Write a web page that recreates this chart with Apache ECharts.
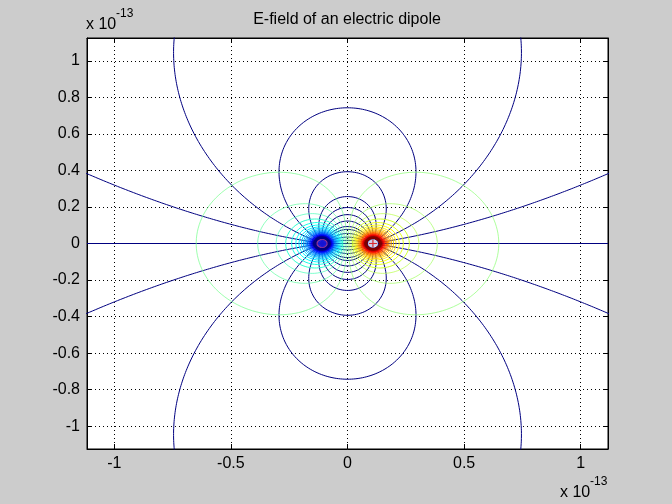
<!DOCTYPE html>
<html>
<head>
<meta charset="utf-8">
<script src="https://cdn.jsdelivr.net/npm/echarts@6/dist/echarts.min.js"></script>
<style>
html,body{margin:0;padding:0;background:#cccccc;}
#chart{width:672px;height:504px;}
</style>
</head>
<body>
<div id="chart"></div>
<script>
// ---------------- data ----------------
const chartTitle = 'E-field of an electric dipole';
const exponentText = '-13';                 // axis multiplier x 10^-13
const xRange = [-1.117, 1.117];             // ×1e-13
const yRange = [-1.125, 1.125];             // ×1e-13
const xTicks = [-1, -0.5, 0, 0.5, 1];
const yTicks = [-1, -0.8, -0.6, -0.4, -0.2, 0, 0.2, 0.4, 0.6, 0.8, 1];
const chargeX = [-0.109, 0.109];            // negative charge, positive charge (both at y = 0)
const chargeSign = [-1, 1];
// heights (×1e-13) where each field line crosses the x = 0 line (mirrored below the axis)
const fieldLineCrossings = [11.1, 1.93, 0.743, 0.393, 0.257, 0.197, 0.158, 0.123, 0.093, 0.077, 0.055, 0.035, 0.017];
// |potential| of the equipotential contours drawn round each charge (1/r units, r in 1e-13)
const potentialLevels = [0.533, 1.599, 2.665, 3.731, 4.797, 5.863, 6.929, 7.995, 9.061, 10.127,
                         11.193, 12.259, 13.325, 14.391, 15.457, 16.523, 17.589, 18.655, 19.721,
                         20.787, 21.853, 22.919, 23.985, 25.051, 26.117, 27.183, 28.249, 29.315,
                         30.381, 31.447, 32.513];
const colorLimit = 24;                      // colour scale runs from -colorLimit (blue) to +colorLimit (red)

// ---------------- helpers ----------------
function clamp01(v){ return Math.max(0, Math.min(1, v)); }
function jet(t){
  t = clamp01(t);
  const r = clamp01(Math.min(4*t - 1.5, -4*t + 4.5));
  const g = clamp01(Math.min(4*t - 0.5, -4*t + 3.5));
  const b = clamp01(Math.min(4*t + 0.5, -4*t + 2.5));
  return 'rgb(' + Math.round(r*255) + ',' + Math.round(g*255) + ',' + Math.round(b*255) + ')';
}
const a = chargeX[1];
function potential(x, y){
  let v = 0;
  for (let i = 0; i < chargeX.length; i++){
    v += chargeSign[i] / Math.hypot(x - chargeX[i], y);
  }
  return v;
}
// field line of the dipole crossing x = 0 at height h: cos(th+) - cos(th-) = const
function fieldLine(h, sign){
  const cosAlpha = 1 - 2*a/Math.hypot(a, h);
  const alpha = Math.acos(cosAlpha);
  const n = 4000, pts = [];
  for (let i = 1; i < n; i++){
    const u = i / n;
    const t = alpha + (Math.PI - alpha) * u;
    const cm = Math.max(-1, Math.min(1, Math.cos(t) + 1 - cosAlpha));
    const tm = Math.acos(cm);
    const rp = 2*a*Math.sin(tm) / Math.sin(t - tm);
    const x = a + rp*Math.cos(t), y = rp*Math.sin(t);
    if (!isFinite(x) || !isFinite(y)) continue;
    pts.push([x, sign*y]);
  }
  pts.unshift([a, 0]);
  pts.push([-a, 0]);
  return pts;
}
// equipotential round charge index ci at |level| L (ray marching from the charge)
function equipotential(ci, L){
  const cx = chargeX[ci], s = chargeSign[ci];
  const n = 360, pts = [];
  for (let k = 0; k <= n; k++){
    const ph = 2*Math.PI*k/n, c = Math.cos(ph), sn = Math.sin(ph);
    let lo = 1e-4, hi = lo;
    while (s*potential(cx + hi*c, hi*sn) > L && hi < 50){ lo = hi; hi *= 1.08; }
    for (let it = 0; it < 40; it++){
      const mid = 0.5*(lo + hi);
      if (s*potential(cx + mid*c, mid*sn) > L) lo = mid; else hi = mid;
    }
    const r = 0.5*(lo + hi);
    pts.push([cx + r*c, r*sn]);
  }
  return pts;
}

const series = [];
const navy = '#000080';
const lineBase = {type:'line', showSymbol:false, symbol:'none', silent:true, animation:false, clip:true};
fieldLineCrossings.forEach(h => {
  [1, -1].forEach(sign => {
    series.push(Object.assign({}, lineBase, {data: fieldLine(h, sign), lineStyle:{color:navy, width:1}, z:2}));
  });
});
series.push(Object.assign({}, lineBase, {data:[[xRange[0],0],[xRange[1],0]], lineStyle:{color:navy, width:1}, z:2}));

potentialLevels.forEach(L => {
  [0, 1].forEach(ci => {
    const s = chargeSign[ci];
    series.push(Object.assign({}, lineBase, {data: equipotential(ci, L),
      lineStyle:{color: jet(0.5 + s*L/(2*colorLimit)), width:1, opacity: L < 3 ? 0.7 : 1}, z:3}));
  });
});

// charge centres
series.push({type:'scatter', data:[[chargeX[0],0]], symbol:'circle', symbolSize:[10,8],
  itemStyle:{color:'#1818e8', borderColor:'#a03090', borderWidth:1.2}, z:5, silent:true, animation:false});
series.push({type:'scatter', data:[[chargeX[1],0]], symbol:'circle', symbolSize:[10,8],
  itemStyle:{color:'#ffffff'}, z:5, silent:true, animation:false});
series.push({type:'scatter', data:[[chargeX[1],0]], symbol:'path://M0,3.4H8V4.6H0Z M3.4,0H4.6V8H3.4Z', symbolSize:[8,7],
  itemStyle:{color:'#e00000'}, z:6, silent:true, animation:false});

const font = '"Liberation Sans", Arial, sans-serif';
function axis(extra){
  return Object.assign({
    type:'value',
    axisLine:{show:true, onZero:false, lineStyle:{color:'#000', width:1}},
  }, extra);
}
const chart = echarts.init(document.getElementById('chart'), null, {renderer:'canvas'});
chart.setOption({
  animation:false,
  backgroundColor:'#cccccc',
  grid:{left:87, right:64, top:38, bottom:55, show:true, backgroundColor:'#ffffff', borderColor:'#000', borderWidth:1},
  xAxis:[
    axis({position:'bottom', min:xRange[0], max:xRange[1], minInterval:0.5, maxInterval:0.5,
      axisTick:{show:true, inside:true, length:5, customValues:xTicks, lineStyle:{color:'#000'}},
      axisLabel:{show:true, customValues:xTicks, margin:7, color:'#000', fontSize:16, fontFamily:font},
      splitLine:{show:true, lineStyle:{color:'#000', width:1, type:[1,3]}}}),
    axis({position:'top', min:xRange[0], max:xRange[1], minInterval:0.5, maxInterval:0.5,
      axisTick:{show:true, inside:true, length:5, customValues:xTicks, lineStyle:{color:'#000'}},
      axisLabel:{show:false}, splitLine:{show:false}})
  ],
  yAxis:[
    axis({position:'left', min:yRange[0], max:yRange[1], minInterval:0.2, maxInterval:0.2,
      axisTick:{show:true, inside:true, length:5, customValues:yTicks, lineStyle:{color:'#000'}},
      axisLabel:{show:true, customValues:yTicks, margin:7, color:'#000', fontSize:16, fontFamily:font,
        formatter: v => String(Math.round(v*10)/10)},
      splitLine:{show:true, lineStyle:{color:'#000', width:1, type:[1,3]}}}),
    axis({position:'right', min:yRange[0], max:yRange[1], minInterval:0.2, maxInterval:0.2,
      axisTick:{show:true, inside:true, length:5, customValues:yTicks, lineStyle:{color:'#000'}},
      axisLabel:{show:false}, splitLine:{show:false}})
  ],
  graphic:[
    {type:'text', silent:true, style:{text:chartTitle, x:347, y:20, textAlign:'center', textVerticalAlign:'middle', font:'16px ' + font, fill:'#000'}},
    {type:'text', silent:true, style:{text:'x 10', x:86, y:25, textAlign:'left', textVerticalAlign:'middle', font:'16px ' + font, fill:'#000'}},
    {type:'text', silent:true, style:{text:exponentText, x:116, y:14, textAlign:'left', textVerticalAlign:'middle', font:'12px ' + font, fill:'#000'}},
    {type:'text', silent:true, style:{text:'x 10', x:560, y:493, textAlign:'left', textVerticalAlign:'middle', font:'16px ' + font, fill:'#000'}},
    {type:'text', silent:true, style:{text:exponentText, x:590, y:482, textAlign:'left', textVerticalAlign:'middle', font:'12px ' + font, fill:'#000'}}
  ],
  series: series
});
</script>
</body>
</html>
